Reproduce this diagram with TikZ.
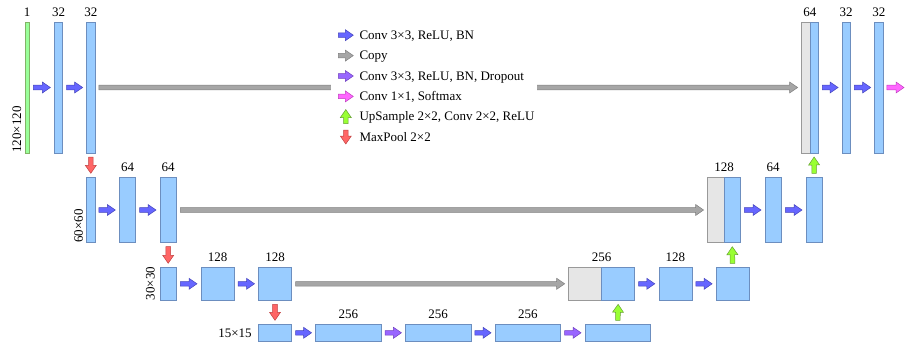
\documentclass[tikz,border=0pt]{standalone}
\usepackage{fontspec}
\setmainfont{Liberation Serif}
\usetikzlibrary{calc,positioning}

\definecolor{blockfill}{HTML}{99CCFF}
\definecolor{blockline}{HTML}{6C8EBF}
\definecolor{inputfill}{HTML}{99FF99}
\definecolor{inputline}{HTML}{82B366}
\definecolor{catfill}{HTML}{E6E6E6}
\definecolor{catline}{HTML}{999999}
\definecolor{convfill}{HTML}{6666FF}
\definecolor{convline}{HTML}{4444BB}
\definecolor{copyfill}{HTML}{A6A6A6}
\definecolor{copyline}{HTML}{808080}
\definecolor{dropfill}{HTML}{9966FF}
\definecolor{dropline}{HTML}{7040C0}
\definecolor{softfill}{HTML}{FF66FF}
\definecolor{softline}{HTML}{C040C0}
\definecolor{upfill}{HTML}{99FF33}
\definecolor{upline}{HTML}{66A033}
\definecolor{poolfill}{HTML}{FF6666}
\definecolor{poolline}{HTML}{C04040}

\tikzset{
  fmap/.style={draw=blockline, fill=blockfill, line width=0.6pt, inner sep=0pt, outer sep=0pt},
  catmap/.style={draw=catline, fill=catfill},
  r1/.style={fmap, minimum width=8.3pt, minimum height=131pt},
  r2/.style={fmap, minimum width=16.4pt, minimum height=65.4pt},
  r3/.style={fmap, minimum width=33pt, minimum height=33pt},
  r4/.style={fmap, minimum width=65.5pt, minimum height=17pt},
  num/.style={font=\fontsize{13}{15}\selectfont, inner sep=2pt},
  dim/.style={font=\fontsize{13}{15}\selectfont, inner sep=0pt, rotate=90, anchor=south west},
  keytext/.style={font=\fontsize{13}{15}\selectfont, anchor=west, inner sep=0pt, text height=8.6pt, text depth=0pt},
  % block arrow between two points, #1 = gap at both ends
  fat/.style={to path={
    let \p1=($(\tikztostart)!#1!(\tikztotarget)$),
        \p2=($(\tikztotarget)!#1!(\tikztostart)$),
        \p3=($(\p2)!8pt!(\p1)$) in
    ($(\p1)!2.3pt!90:(\p2)$) -- ($(\p3)!2.3pt!90:(\p2)$) -- ($(\p3)!5.5pt!90:(\p2)$)
    -- (\p2) -- ($(\p3)!5.5pt!-90:(\p2)$) -- ($(\p3)!2.3pt!-90:(\p2)$)
    -- ($(\p1)!2.3pt!-90:(\p2)$) -- cycle}},
  fat/.default=4pt,
  conv/.style={fill=convfill, draw=convline, line width=0.5pt},
  copy/.style={fill=copyfill, draw=copyline, line width=0.5pt},
  drop/.style={fill=dropfill, draw=dropline, line width=0.5pt},
  soft/.style={fill=softfill, draw=softline, line width=0.5pt},
  up/.style={fill=upfill, draw=upline, line width=0.5pt},
  pool/.style={fill=poolfill, draw=poolline, line width=0.5pt}
}

\begin{document}
\begin{tikzpicture}[x=1pt,y=-1pt]
\useasboundingbox (0,0) rectangle (907,345);

%row 1
\node[fmap, draw=inputline, fill=inputfill, minimum width=4.3pt, minimum height=131pt] (in) at (27.2,87.5) {};
\node[r1] (e11) at (58.5,87.5) {};
\node[r1] (e12) at (90.8,87.5) {};
\node[r1, catmap] (c1) at (805.8,87.5) {};
\node[r1, right=0pt of c1] (d11) {};
\node[r1] (d12) at (846.2,87.5) {};
\node[r1] (d13) at (878.8,87.5) {};
\coordinate (out) at (908,87.5);
%
%row 2
\node[r2, minimum width=8.3pt] (e21) at (90.8,210) {};
\node[r2] (e22) at (127.5,210) {};
\node[r2] (e23) at (168.2,210) {};
\node[r2, catmap] (c2) at (715.8,210) {};
\node[r2, right=0pt of c2] (d21) {};
\node[r2] (d22) at (773.2,210) {};
\node[r2] (d23) at (814.2,210) {};
%
%row 3
\node[r3, minimum width=16.3pt] (e31) at (168.2,283.8) {};
\node[r3] (e32) at (217.5,283.8) {};
\node[r3] (e33) at (275,283.8) {};
\node[r3, catmap] (c3) at (585.2,283.8) {};
\node[r3, right=0pt of c3] (d31) {};
\node[r3] (d32) at (675.3,283.8) {};
\node[r3] (d33) at (732.6,283.8) {};
%
%row 4
\node[r4, minimum width=33.4pt] (e41) at (275,332.8) {};
\node[r4] (e42) at (348.3,332.8) {};
\node[r4] (e43) at (438.2,332.8) {};
\node[r4] (e44) at (527.8,332.8) {};
\node[r4] (e45) at (617.8,332.8) {};

%copy arrows
\draw[copy] (e12.east) to[fat] (c1.west);
\draw[copy] (e23.east) to[fat] (c2.west);
\draw[copy] (e33.east) to[fat] (c3.west);

%conv arrows
\draw[conv] (in.east)  to[fat] (e11.west);
\draw[conv] (e11.east) to[fat] (e12.west);
\draw[conv] (d11.east) to[fat] (d12.west);
\draw[conv] (d12.east) to[fat] (d13.west);
\draw[soft] (d13.east) to[fat] (out);
%
\draw[conv] (e21.east) to[fat] (e22.west);
\draw[conv] (e22.east) to[fat] (e23.west);
\draw[conv] (d21.east) to[fat] (d22.west);
\draw[conv] (d22.east) to[fat] (d23.west);
%
\draw[conv] (e31.east) to[fat] (e32.west);
\draw[conv] (e32.east) to[fat] (e33.west);
\draw[conv] (d31.east) to[fat] (d32.west);
\draw[conv] (d32.east) to[fat] (d33.west);
%
\draw[conv] (e41.east) to[fat] (e42.west);
\draw[drop] (e42.east) to[fat] (e43.west);
\draw[conv] (e43.east) to[fat] (e44.west);
\draw[drop] (e44.east) to[fat] (e45.west);

%pooling and upsampling
\draw[pool] (e12.south) to[fat] (e21.north);
\draw[pool] (e23.south) to[fat] (e31.north);
\draw[pool] (e33.south) to[fat] (e41.north);
\draw[up]   (e45.north) to[fat] (d31.south);
\draw[up]   (d33.north) to[fat] (d21.south);
\draw[up]   (d23.north) to[fat] (d11.south);

%legend
\node[fill=white, inner sep=0pt, minimum width=206pt, minimum height=120pt] (key) at (434,86) {};
\coordinate (k1a) at (338.3,35.2);  \coordinate (k1b) at (353.3,35.2);
\coordinate (k2a) at (338.3,55.6);  \coordinate (k2b) at (353.3,55.6);
\coordinate (k3a) at (338.3,76);    \coordinate (k3b) at (353.3,76);
\coordinate (k4a) at (338.3,96.4);  \coordinate (k4b) at (353.3,96.4);
\coordinate (k5a) at (345.8,123.6); \coordinate (k5b) at (345.8,109.6);
\coordinate (k6a) at (345.8,130);   \coordinate (k6b) at (345.8,144);
\draw[conv] (k1a) to[fat=0pt] (k1b);
\draw[copy] (k2a) to[fat=0pt] (k2b);
\draw[drop] (k3a) to[fat=0pt] (k3b);
\draw[soft] (k4a) to[fat=0pt] (k4b);
\draw[up]   (k5a) to[fat=0pt] (k5b);
\draw[pool] (k6a) to[fat=0pt] (k6b);
\node[keytext] (t1) at (359.3,35.2)  {Conv 3×3, ReLU, BN};
\node[keytext] (t2) at (359.3,55.6)  {Copy};
\node[keytext] (t3) at (359.3,76)    {Conv 3×3, ReLU, BN, Dropout};
\node[keytext] (t4) at (359.3,96.4)  {Conv 1×1, Softmax};
\node[keytext] (t5) at (359.3,116.6) {UpSample 2×2, Conv 2×2, ReLU};
\node[keytext] (t6) at (359.3,137)   {MaxPool 2×2};

%labels
\node[num, above=3.5pt of in]  (l-in)  {1};
\node[num, above=3.5pt of e11] (l-e11) {32};
\node[num, above=3.5pt of e12] (l-e12) {32};
\node[num, above=3.5pt of c1.north east] (l-c1) {64};
\node[num, above=3.5pt of d12] (l-d12) {32};
\node[num, above=3.5pt of d13] (l-d13) {32};
%
\node[num, above=3.5pt of e22] (l-e22) {64};
\node[num, above=3.5pt of e23] (l-e23) {64};
\node[num, above=3.5pt of c2.north east] (l-c2) {128};
\node[num, above=3.5pt of d22] (l-d22) {64};
%
\node[num, above=3.5pt of e32] (l-e32) {128};
\node[num, above=3.5pt of e33] (l-e33) {128};
\node[num, above=3.5pt of c3.north east] (l-c3) {256};
\node[num, above=3.5pt of d32] (l-d32) {128};
%
\node[num, above=3.5pt of e42] (l-e42) {256};
\node[num, above=3.5pt of e43] (l-e43) {256};
\node[num, above=3.5pt of e44] (l-e44) {256};
%
\node[dim] (s1) at ([xshift=-3.5pt]in.south west)  {120×120};
\node[dim] (s2) at ([xshift=-3.5pt]e21.south west) {60×60};
\node[dim] (s3) at ([xshift=-5pt]e31.south west)   {30×30};
\node[num, left=4.5pt of e41] (s4) {15×15};

\end{tikzpicture}
\end{document}
